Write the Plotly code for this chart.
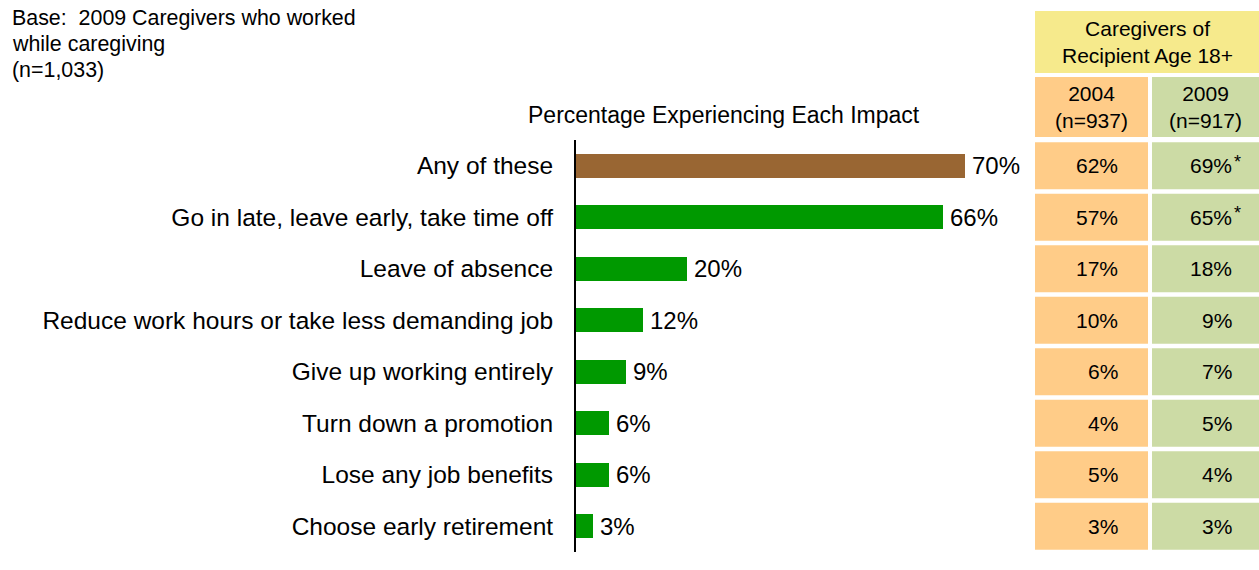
import plotly.graph_objects as go

# Survey data
categories = [
    "Any of these",
    "Go in late, leave early, take time off",
    "Leave of absence",
    "Reduce work hours or take less demanding job",
    "Give up working entirely",
    "Turn down a promotion",
    "Lose any job benefits",
    "Choose early retirement",
]
pct_2009_workers = [70, 66, 20, 12, 9, 6, 6, 3]
pct_2004_adult = [62, 57, 17, 10, 6, 4, 5, 3]
pct_2009_adult = [69, 65, 18, 9, 7, 5, 4, 3]
sig_2009_adult = [True, True, False, False, False, False, False, False]

base_lines = ["Base:  2009 Caregivers who worked", "while caregiving", "(n=1,033)"]
chart_title = "Percentage Experiencing Each Impact"
table_title = "Caregivers of<br>Recipient Age 18+"
col_headers = ["2004<br>(n=937)", "2009<br>(n=917)"]

W, H = 1259, 570
FONT = "Arial, Liberation Sans, sans-serif"
BROWN = "#996633"
GREEN = "#009900"
YELLOW = "#F6EA8C"
ORANGE = "#FFCC88"
SAGE = "#CCDBA5"

bar_colors = [BROWN] + [GREEN] * (len(categories) - 1)
ypos = list(range(len(categories)))

fig = go.Figure()
fig.add_trace(go.Bar(
    x=pct_2009_workers, y=ypos, orientation="h",
    marker=dict(color=bar_colors, line=dict(width=0)),
    width=0.47, hoverinfo="skip", showlegend=False,
    xaxis="x", yaxis="y",
))
# invisible anchor trace for the table panel
fig.add_trace(go.Scatter(x=[0], y=[0], mode="markers", marker=dict(opacity=0),
                         xaxis="x2", yaxis="y2", hoverinfo="skip", showlegend=False))

annotations = []
for v, y in zip(pct_2009_workers, ypos):
    annotations.append(dict(x=v, y=y, xref="x", yref="y", text=f"{v}%",
                            xanchor="left", yanchor="middle", xshift=5, showarrow=False,
                            font=dict(family=FONT, size=24, color="black")))

annotations.append(dict(x=724 / W, y=1 - 115 / H, xref="paper", yref="paper",
                        text=chart_title, showarrow=False, xanchor="center", yanchor="middle",
                        font=dict(family=FONT, size=23, color="black")))
for k, line in enumerate(base_lines):
    annotations.append(dict(x=10 / W, y=1 - (18 + 26 * k) / H, xref="paper", yref="paper",
                            text=line, showarrow=False, xanchor="left", yanchor="middle",
                            font=dict(family=FONT, size=21.4, color="black")))

# Table panel geometry (x2 in pixels across the panel, y2 in row units)
COL0 = (0, 113)
COL1 = (117, 224)
shapes = []
shapes.append(dict(type="rect", xref="x2", yref="y2", x0=0, x1=224, y0=-3.005, y1=-1.80,
                   fillcolor=YELLOW, line=dict(width=0), layer="below"))
annotations.append(dict(x=112, y=-2.40, xref="x2", yref="y2", text=table_title, showarrow=False,
                        font=dict(family=FONT, size=21, color="black")))
for (c0, c1), head, col in zip([COL0, COL1], col_headers, [ORANGE, SAGE]):
    shapes.append(dict(type="rect", xref="x2", yref="y2", x0=c0, x1=c1, y0=-1.723, y1=-0.558,
                       fillcolor=col, line=dict(width=0), layer="below"))
    annotations.append(dict(x=(c0 + c1) / 2, y=-1.14, xref="x2", yref="y2", text=head,
                            showarrow=False, font=dict(family=FONT, size=21, color="black")))

for i, (a, b, s) in enumerate(zip(pct_2004_adult, pct_2009_adult, sig_2009_adult)):
    for (c0, c1), col in zip([COL0, COL1], [ORANGE, SAGE]):
        shapes.append(dict(type="rect", xref="x2", yref="y2", x0=c0, x1=c1,
                           y0=i - 0.455, y1=i + 0.455, fillcolor=col, line=dict(width=0), layer="below"))
    annotations.append(dict(x=85, y=i, xref="x2", yref="y2", text=f"{a}%", xanchor="right",
                            showarrow=False, font=dict(family=FONT, size=21, color="black")))
    annotations.append(dict(x=199, y=i, xref="x2", yref="y2", text=f"{b}%", xanchor="right",
                            showarrow=False, font=dict(family=FONT, size=21, color="black")))
    if s:
        annotations.append(dict(x=199, y=i, xref="x2", yref="y2", text="*", xanchor="left",
                                xshift=-2, yshift=4, showarrow=False,
                                font=dict(family=FONT, size=18, color="black")))

PX_PER_PCT = (965 - 576) / 70.0
fig.update_layout(
    width=W, height=H, autosize=False,
    margin=dict(l=0, r=0, t=0, b=0),
    paper_bgcolor="white", plot_bgcolor="rgba(0,0,0,0)",
    xaxis=dict(domain=[576 / W, 1000 / W], range=[0, (1000 - 576) / PX_PER_PCT],
               visible=False, fixedrange=True),
    yaxis=dict(domain=[18 / H, 430 / H], range=[7.5, -0.5], tickvals=ypos, ticktext=categories,
               showline=True, linecolor="black", linewidth=2, ticks="", showgrid=False,
               zeroline=False, ticklabelstandoff=16,
               tickfont=dict(family=FONT, size=24.5, color="black"), fixedrange=True),
    xaxis2=dict(domain=[1035 / W, 1.0], range=[0, 224], visible=False, anchor="y2", fixedrange=True),
    yaxis2=dict(domain=[0, 1], range=[(H - 165.75) / 51.5, -165.75 / 51.5], visible=False,
                anchor="x2", fixedrange=True),
    shapes=shapes,
    annotations=annotations,
    bargap=0,
)

fig.write_html("out.html")
